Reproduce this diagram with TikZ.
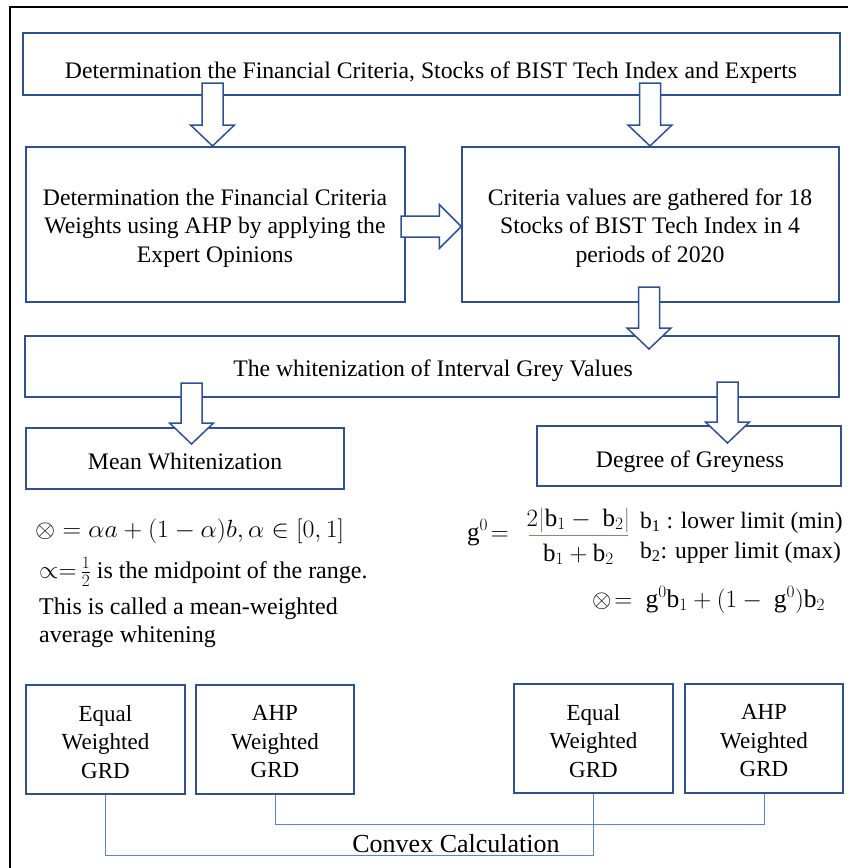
\documentclass[tikz,border=0pt]{standalone}
\usepackage{fontspec}
\setmainfont{Liberation Serif}
\usetikzlibrary{calc}
\definecolor{boxblue}{RGB}{47,82,143}
\definecolor{connblue}{RGB}{90,130,205}
\definecolor{barbrown}{RGB}{160,125,120}
\tikzset{
  box/.style={draw=boxblue, line width=1.5pt, fill=white, inner sep=0pt, rectangle},
  barrow/.style={draw=boxblue, line width=1.5pt, fill=white, line join=miter},
  conn/.style={draw=connblue, line width=0.9pt},
  txt/.style={inner sep=0pt, font=\fontsize{23.7}{28.5}\selectfont, align=center},
  smalltxt/.style={inner sep=0pt, font=\fontsize{23}{28.5}\selectfont, align=center},
  mtxt/.style={inner sep=0pt, font=\fontsize{24}{28}\selectfont},
  frameline/.style={draw=black, line width=2.5pt},
}
\newcommand\varrow[2]{\draw[barrow] let \p1=(#1), \p2=(#2) in
  (\x1-10.5pt,\y1) -- (\x1+10.5pt,\y1) -- (\x1+10.5pt,\y2+21pt) -- (\x1+22pt,\y2+21pt)
  -- (\x1,\y2) -- (\x1-22pt,\y2+21pt) -- (\x1-10.5pt,\y2+21pt) -- cycle;}
\newcommand\harrow[2]{\draw[barrow] let \p1=(#1), \p2=(#2) in
  (\x1,\y1+10.5pt) -- (\x2-22pt,\y1+10.5pt) -- (\x2-22pt,\y1+22pt) -- (\x2,\y1)
  -- (\x2-22pt,\y1-22pt) -- (\x2-22pt,\y1-10.5pt) -- (\x1,\y1-10.5pt) -- cycle;}
\begin{document}
\begin{tikzpicture}[x=1pt,y=-1pt]
\useasboundingbox (0,0) rectangle (850,868);
\fill[white] (0,0) rectangle (850,868);
\draw[frameline] (10,868) -- (10,7) -- (848,7);

% boxes
\node[box, minimum width=817pt, minimum height=62pt] (top) at (431.5,64) {};
\node[box, minimum width=379pt, minimum height=155pt] (crw) at (215.5,224.5) {};
\node[box, minimum width=377pt, minimum height=155pt] (crv) at (650.5,224.5) {};
\node[box, minimum width=814pt, minimum height=61pt] (wht) at (432,366.5) {};
\node[box, minimum width=318pt, minimum height=61pt] (mean) at (185,458.5) {};
\node[box, minimum width=304pt, minimum height=60pt] (deg) at (689,456) {};
\node[box, minimum width=159pt, minimum height=109pt] (ga) at (105.5,739.5) {};
\node[box, minimum width=158pt, minimum height=109pt] (gb) at (275,739.5) {};
\node[box, minimum width=159pt, minimum height=109pt] (gc) at (593.5,738.5) {};
\node[box, minimum width=158pt, minimum height=109pt] (gd) at (764,738.5) {};

% box texts
\node[txt, anchor=base] (ttop) at (431,78) {Determination the Financial Criteria, Stocks of BIST Tech Index and Experts};
\node[txt] (tcrw) at (215,228) {Determination the Financial Criteria\\Weights using AHP by applying the\\Expert Opinions};
\node[txt] (tcrv) at (650,228) {Criteria values are gathered for 18\\Stocks of BIST Tech Index in 4\\periods of 2020};
\node[txt, anchor=base] (twht) at (433,376) {The whitenization of Interval Grey Values};
\node[txt, anchor=base] (tmean) at (185,469) {Mean Whitenization};
\node[txt, anchor=base] (tdeg) at (690,467) {Degree of Greyness};
\node[smalltxt] (tga) at (105.5,742) {Equal\\Weighted\\GRD};
\node[smalltxt] (tgb) at (275,742) {AHP\\Weighted\\GRD};
\node[smalltxt] (tgc) at (593.5,741) {Equal\\Weighted\\GRD};
\node[smalltxt] (tgd) at (764,741) {AHP\\Weighted\\GRD};

% block arrows
\coordinate (a1s) at (212.5,83);  \coordinate (a1e) at (212.5,146);
\coordinate (a2s) at (650,83);    \coordinate (a2e) at (650,146);
\coordinate (a3s) at (649,287);   \coordinate (a3e) at (649,349);
\coordinate (a4s) at (191.5,383); \coordinate (a4e) at (191.5,444);
\coordinate (a5s) at (727.5,382); \coordinate (a5e) at (727.5,443);
\coordinate (h1s) at (401,226.5); \coordinate (h1e) at (crv.west |- h1s);
\varrow{a1s}{a1e}
\varrow{a2s}{a2e}
\varrow{a3s}{a3e}
\varrow{a4s}{a4e}
\varrow{a5s}{a5e}
\harrow{h1s}{h1e}

% left formulas
\node[mtxt, anchor=base west, font=\fontsize{26.5}{30}\selectfont] (f1) at (35,537)
  {\scalebox{1.04}[1]{$\otimes=\alpha a+(1-\alpha)b,\alpha\in[0,1]$}};
\node[mtxt, anchor=base west] (f2) at (39,578)
  {${\propto}{=}\,\frac{1}{2}$ is the midpoint of the range.};
\node[mtxt, anchor=base west] (f3) at (39,614) {This is called a mean-weighted};
\node[mtxt, anchor=base west] (f4) at (39,642) {average whitening};

% right formulas
\node[mtxt, anchor=base west, font=\fontsize{25}{28}\selectfont] (g0) at (467,540) {$\mathrm{g}^0\!=$};
\node[mtxt, anchor=base, font=\fontsize{25}{28}\selectfont] (gnum) at (578.5,526)
  {$2{\color{barbrown}|}\mathrm{b}_1-\ \mathrm{b}_2{\color{barbrown}|}$};
\node[mtxt, anchor=base, font=\fontsize{25}{28}\selectfont] (gden) at (578.5,561) {$\mathrm{b}_1+\mathrm{b}_2$};
\coordinate (barl) at (529,535); \coordinate (barr) at (628,535);
\draw[barbrown, line width=1pt] (barl) -- (barr);
\node[mtxt, anchor=base west, font=\fontsize{23.5}{28}\selectfont] (bl1) at (640,528)
  {b\textsubscript{1} : lower limit (min)};
\node[mtxt, anchor=base west, font=\fontsize{23.5}{28}\selectfont] (bl2) at (640,558)
  {b\textsubscript{2}: upper limit (max)};
\node[mtxt, anchor=base west, font=\fontsize{25.5}{28}\selectfont] (f5) at (592,607)
  {$\otimes\!=\ \mathrm{g}^0\mathrm{b}_1+(1-\ \mathrm{g}^0)\mathrm{b}_2$};

% convex connectors
\coordinate (acy) at (0,855);
\coordinate (bdy) at (0,824);
\draw[conn] (ga.south) -- (ga.south |- acy) -| (gc.south);
\draw[conn] (gb.south) -- (gb.south |- bdy) -| (gd.south);
\node[inner sep=0pt, anchor=base, font=\fontsize{26}{30}\selectfont] (conv) at (456,852) {Convex Calculation};
\end{tikzpicture}
\end{document}
